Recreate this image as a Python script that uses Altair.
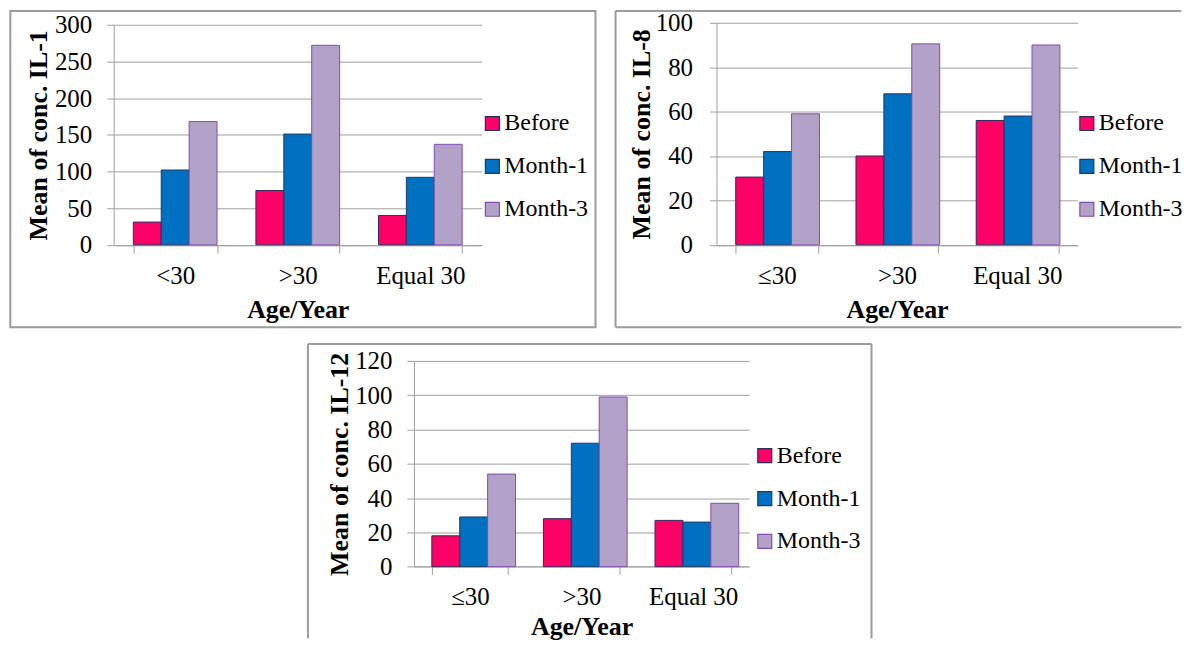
import altair as alt
import pandas as pd

SERIES = ["Before", "Month-1", "Month-3"]
FILLS = ["#FF0066", "#0070C0", "#B3A2C7"]
STROKES = ["#2E2A5E", "#1F3864", "#7F4CB0"]

AGE_IL1 = ["<30", ">30", "Equal 30"]
AGE = ["≤30", ">30", "Equal 30"]

IL1_BEFORE = [31, 74, 40]
IL1_MONTH1 = [102, 151, 92]
IL1_MONTH3 = [168, 272, 137]

IL8_BEFORE = [30.5, 40, 56]
IL8_MONTH1 = [42, 68, 58]
IL8_MONTH3 = [59, 90.5, 90]

IL12_BEFORE = [18, 28, 27]
IL12_MONTH1 = [29, 72, 26]
IL12_MONTH3 = [54, 99, 37]

FONT = "Liberation Serif"
GRID = "#A0A0A0"
FRAME = "#9C9C9C"

_one = pd.DataFrame({"k": [0]})


def frame_rect(x0, x1, y0, y1):
    return alt.Chart(_one).mark_rect(filled=False, stroke=FRAME, strokeWidth=2).encode(
        x=alt.value(x0), x2=alt.value(x1), y=alt.value(y0), y2=alt.value(y1))


def frame_rule(x0, x1, y0, y1, opacity=1):
    return alt.Chart(_one).mark_rule(stroke=FRAME, strokeWidth=2, opacity=opacity).encode(
        x=alt.value(x0), x2=alt.value(x1), y=alt.value(y0), y2=alt.value(y1))


def panel(cats, vals, ymax, ystep, ytitle, W, H, yrange, lx, ly, ylabpad, xtitle_y, frames):
    rows = [{"Age": c, "Series": s, "Value": v[i]}
            for s, v in zip(SERIES, vals) for i, c in enumerate(cats)]
    df = pd.DataFrame(rows)
    leg = alt.Legend(title=None, orient="none", legendX=lx, legendY=ly,
                     symbolType="square", symbolSize=196, symbolStrokeWidth=1.2,
                     labelFont=FONT, labelFontSize=24, labelColor="black",
                     labelOffset=0, rowPadding=19, padding=0)
    bars = alt.Chart(df).mark_bar(strokeWidth=1).encode(
        x=alt.X("Age:N", sort=cats,
                scale=alt.Scale(paddingInner=0.317, paddingOuter=0.16),
                axis=alt.Axis(title="Age/Year", labelAngle=0, tickBand="extent",
                              tickSize=8, labelPadding=22, labelBaseline="middle",
                              titleX=W / 2, titleY=xtitle_y, titleBaseline="middle",
                              grid=False)),
        xOffset=alt.XOffset("Series:N", sort=SERIES,
                            scale=alt.Scale(paddingInner=0, paddingOuter=0)),
        y=alt.Y("Value:Q",
                scale=alt.Scale(domain=[0, ymax], nice=False, zero=True, range=yrange),
                axis=alt.Axis(title=ytitle, values=list(range(0, ymax + 1, ystep)),
                              tickSize=7, labelPadding=ylabpad, grid=True,
                              titleX=-75, titleY=(yrange[0] + yrange[1]) / 2,
                              titleAngle=270, titleBaseline="middle",
                              titleAlign="center")),
        color=alt.Color("Series:N", sort=SERIES,
                        scale=alt.Scale(domain=SERIES, range=FILLS), legend=leg),
        stroke=alt.Stroke("Series:N", sort=SERIES,
                          scale=alt.Scale(domain=SERIES, range=STROKES), legend=leg),
    )
    return alt.layer(*frames, bars).properties(width=W, height=H)


# IL-1 panel (top left)
W1, H1 = 369, 221
p1 = panel(AGE_IL1, [IL1_BEFORE, IL1_MONTH1, IL1_MONTH3], 300, 50,
           "Mean of conc. IL-1", W1, H1, [220.6, 0], 367.6, 87, 15, 64,
           [frame_rect(-103.7, 483, -13.7, 303.3)])

# IL-8 panel (top right)
W2, H2 = 362, 221
p2 = panel(AGE, [IL8_BEFORE, IL8_MONTH1, IL8_MONTH3], 100, 20,
           "Mean of conc. IL-8", W2, H2, [220.6, -2], 359.3, 87, 17, 64,
           [frame_rule(-101.2, 466, -13.7, -13.7),
            frame_rule(-101.2, 466, 303.3, 303.3),
            frame_rule(-101.2, -101.2, -13.7, 303.3),
            frame_rule(-104.2, -104.2, 0, 10, opacity=0)])

# IL-12 panel (bottom, centred)
W3, H3 = 336, 206
p3 = panel(AGE, [IL12_BEFORE, IL12_MONTH1, IL12_MONTH3], 120, 20,
           "Mean of conc. IL-12", W3, H3, [206.3, 0], 339.7, 83, 15, 60,
           [frame_rule(-106.3, 458.7, -17, -17),
            frame_rule(-106.3, -106.3, -17, 278),
            frame_rule(458.7, 458.7, -17, 278)])

spacer = alt.Chart(_one).mark_point(opacity=0).encode(
    x=alt.value(0), y=alt.value(0)).properties(width=192.3, height=10)

top = alt.hconcat(p1, p2, spacing=14.3).resolve_scale(color="independent", stroke="independent")
bottom = alt.hconcat(spacer, p3, spacing=0).resolve_scale(color="independent", stroke="independent")

chart = (
    alt.vconcat(top, bottom, spacing=13)
    .resolve_scale(color="independent", stroke="independent")
    .properties(padding={"left": 0, "top": 0, "right": 0, "bottom": 0})
    .configure_view(stroke="transparent")
    .configure_axis(labelFont=FONT, labelFontSize=25, labelColor="black",
                    titleFont=FONT, titleFontSize=26, titleFontWeight="bold",
                    titleColor="black", domainColor=GRID, tickColor=GRID,
                    gridColor=GRID, domainWidth=1, tickWidth=1, gridWidth=1)
)

chart.save("out.html", embed_options={"renderer": "svg", "actions": False})
